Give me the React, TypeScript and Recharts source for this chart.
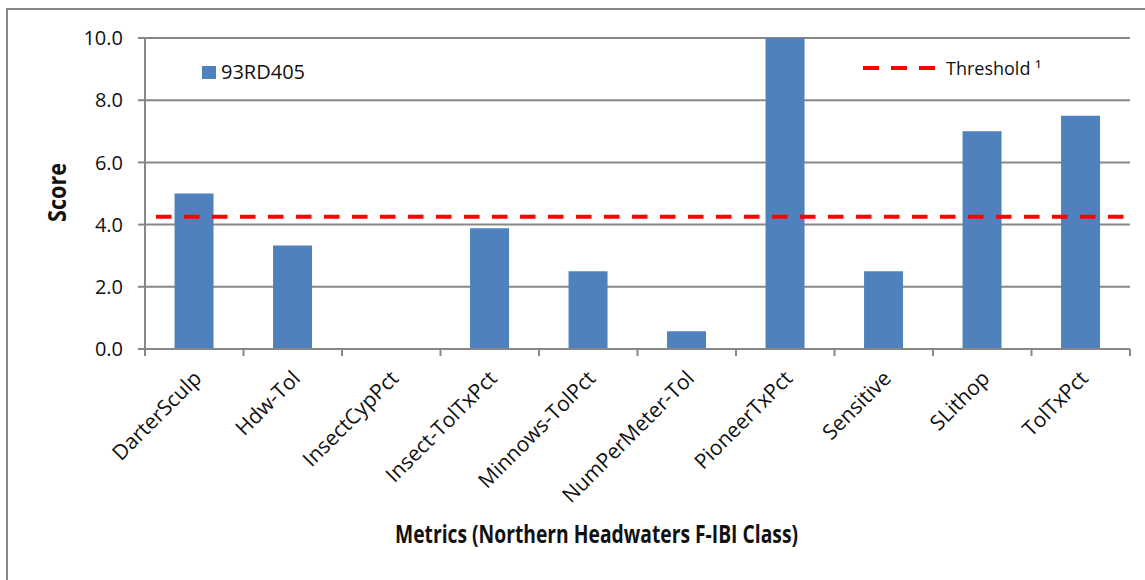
import React from 'react';
import { BarChart, Bar, XAxis, YAxis, CartesianGrid, ReferenceLine, Legend } from 'recharts';

const metrics = [
  'DarterSculp',
  'Hdw-Tol',
  'InsectCypPct',
  'Insect-TolTxPct',
  'Minnows-TolPct',
  'NumPerMeter-Tol',
  'PioneerTxPct',
  'Sensitive',
  'SLithop',
  'TolTxPct',
];
const siteScores = [5.0, 3.33, 0, 3.88, 2.5, 0.57, 10.0, 2.5, 7.0, 7.5];
const scoreTicks = [0, 2, 4, 6, 8, 10];
const thresholdScore = 4.25;
const siteName = '93RD405';
const thresholdLabel = 'Threshold \u00b9';

const data = metrics.map((metric, i) => ({ metric, score: siteScores[i] }));

const W = 1145;
const H = 580;
const MARGIN = { top: 38, right: 15, bottom: 101, left: 45 };
const Y_AXIS_W = 100;
const X_AXIS_H = 130;
const BAND = (W - MARGIN.left - MARGIN.right - Y_AXIS_W) / metrics.length;

const AXIS = '#878787';
const BAR = '#4f81bd';
const RED = '#ff0000';
const FONT = '"Open Sans", "Noto Sans", sans-serif';

// category tick: label rotated 45deg plus the small tick marks between categories
function CategoryTick(props: any) {
  const { x, y, payload, index } = props;
  const half = BAND / 2;
  const ax = x + 3;
  const ay = y + 25;
  return (
    <g>
      <line x1={x - half} y1={y} x2={x - half} y2={y + 7} stroke={AXIS} strokeWidth={2} />
      {index === metrics.length - 1 && (
        <line x1={x + half} y1={y} x2={x + half} y2={y + 7} stroke={AXIS} strokeWidth={2} />
      )}
      <text
        x={ax}
        y={ay}
        transform={`rotate(-45 ${ax} ${ay})`}
        textAnchor="end"
        dominantBaseline="central"
        fontFamily={FONT}
        fontSize={21}
        fill="#111"
      >
        {payload.value}
      </text>
    </g>
  );
}

function renderLegend(props: any) {
  const item = props.payload && props.payload[0];
  return (
    <div style={{ position: 'relative', width: 0, height: 0, fontFamily: FONT, color: '#111' }}>
      <div
        style={{
          position: 'absolute',
          left: 202,
          top: 58,
          display: 'flex',
          alignItems: 'center',
          whiteSpace: 'nowrap',
          fontSize: 20,
          lineHeight: '28px',
        }}
      >
        <span style={{ display: 'inline-block', width: 14, height: 13, background: item ? item.color : BAR, marginRight: 5 }} />
        <span>{item ? item.value : siteName}</span>
      </div>
      <div
        style={{
          position: 'absolute',
          left: 863,
          top: 54,
          display: 'flex',
          alignItems: 'center',
          whiteSpace: 'nowrap',
          fontSize: 18,
          lineHeight: '28px',
        }}
      >
        <svg width={74} height={8} style={{ display: 'block' }}>
          <line x1={0} y1={4} x2={74} y2={4} stroke={RED} strokeWidth={4} strokeDasharray="16 12" />
        </svg>
        <span style={{ marginLeft: 9 }}>{thresholdLabel}</span>
      </div>
    </div>
  );
}

export default function App() {
  return (
    <div style={{ position: 'absolute', left: 0, top: 0, width: W, height: H, background: '#fff', overflow: 'hidden' }}>
      <div
        style={{
          position: 'absolute',
          left: 6,
          top: 8,
          width: W,
          height: H,
          borderTop: `2px solid ${AXIS}`,
          borderLeft: `2px solid ${AXIS}`,
        }}
      />
      <div style={{ position: 'absolute', left: 0, top: 0 }}>
        <BarChart width={W} height={H} data={data} margin={MARGIN} barCategoryGap="30%">
          <CartesianGrid vertical={false} stroke={AXIS} strokeWidth={2} />
          <XAxis
            dataKey="metric"
            height={X_AXIS_H}
            interval={0}
            axisLine={{ stroke: AXIS, strokeWidth: 2 }}
            tickLine={false}
            tickSize={0}
            tickMargin={0}
            tick={<CategoryTick />}
            label={{
              content: () => (
                <text
                  x={596.5}
                  y={543}
                  textAnchor="middle"
                  textLength={403}
                  lengthAdjust="spacingAndGlyphs"
                  fontFamily={FONT}
                  fontWeight="bold"
                  fontSize={25}
                  fill="#111"
                >
                  Metrics (Northern Headwaters F-IBI Class)
                </text>
              ),
            }}
          />
          <YAxis
            width={Y_AXIS_W}
            domain={[0, 10]}
            ticks={scoreTicks}
            tickFormatter={(v: number) => v.toFixed(1)}
            axisLine={{ stroke: AXIS, strokeWidth: 2 }}
            tickLine={{ stroke: AXIS, strokeWidth: 2 }}
            tickSize={7}
            tickMargin={15}
            tick={{ fontFamily: FONT, fontSize: 20, fill: '#111' }}
            label={{
              content: () => (
                <text
                  x={66}
                  y={192.5}
                  transform="rotate(-90 66 192.5)"
                  textAnchor="middle"
                  textLength={59}
                  lengthAdjust="spacingAndGlyphs"
                  fontFamily={FONT}
                  fontWeight="bold"
                  fontSize={25}
                  fill="#111"
                >
                  Score
                </text>
              ),
            }}
          />
          <Legend
            verticalAlign="top"
            content={renderLegend}
            wrapperStyle={{ position: 'absolute', left: 0, top: 0, width: 0, height: 0 }}
          />
          <Bar dataKey="score" name={siteName} fill={BAR} isAnimationActive={false} />
          <ReferenceLine
            y={thresholdScore}
            stroke={RED}
            strokeWidth={4}
            strokeDasharray="15.5 12.5"
            strokeDashoffset={17}
          />
        </BarChart>
      </div>
    </div>
  );
}
